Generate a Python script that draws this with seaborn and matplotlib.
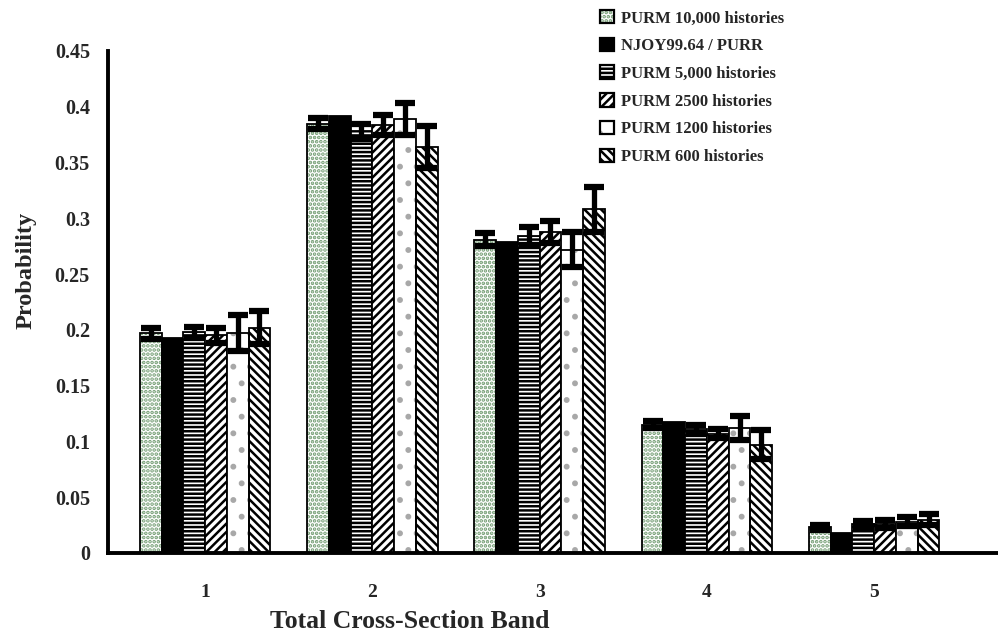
import numpy as np
import pandas as pd
import matplotlib
matplotlib.use("Agg")
import matplotlib.pyplot as plt
import seaborn as sns
from matplotlib.patches import Patch, Rectangle
from matplotlib.legend_handler import HandlerTuple
from matplotlib.ticker import FixedLocator, FuncFormatter

# ---------------- data ----------------
categories = ["1", "2", "3", "4", "5"]
series = ["PURM 10,000 histories", "NJOY99.64 / PURR", "PURM 5,000 histories",
          "PURM 2500 histories", "PURM 1200 histories", "PURM 600 histories"]

purm10k = [0.197, 0.385, 0.281, 0.115, 0.023]
err10k = [0.005, 0.005, 0.006, 0.003, 0.002]
njoy = [0.193, 0.392, 0.279, 0.117, 0.018]
purm5k = [0.198, 0.378, 0.284, 0.111, 0.026]
err5k = [0.005, 0.007, 0.008, 0.004, 0.003]
purm2500 = [0.195, 0.384, 0.288, 0.107, 0.026]
err2500 = [0.007, 0.009, 0.010, 0.004, 0.004]
purm1200 = [0.197, 0.389, 0.272, 0.112, 0.028]
err1200 = [0.016, 0.014, 0.016, 0.011, 0.004]
purm600 = [0.202, 0.364, 0.308, 0.097, 0.030]
err600 = [0.015, 0.019, 0.020, 0.013, 0.005]

yticks = [0, 0.05, 0.1, 0.15, 0.2, 0.25, 0.3, 0.35, 0.4, 0.45]

values = [purm10k, njoy, purm5k, purm2500, purm1200, purm600]
errors = [err10k, None, err5k, err2500, err1200, err600]

rows = []
for s, vals in zip(series, values):
    for c, v in zip(categories, vals):
        rows.append({"band": c, "series": s, "prob": v})
df = pd.DataFrame(rows)

# ---------------- style ----------------
sns.set_style("white")
plt.rcParams["font.family"] = ["Liberation Serif", "DejaVu Serif"]
plt.rcParams["font.weight"] = "bold"
plt.rcParams["hatch.linewidth"] = 1.8

fig = plt.figure(figsize=(9.98, 6.43), dpi=100)
ax = fig.add_axes([108 / 998, (643 - 553) / 643, 890 / 998, (553 - 51) / 643])

sns.barplot(data=df, x="band", y="prob", hue="series", order=categories,
            hue_order=series, errorbar=None, width=0.78, ax=ax,
            palette=["white"] * 6, edgecolor="black", linewidth=1.3,
            legend=False, saturation=1)

# styles per series: (facecolor, hatch, hatch colour)
styles = [
    ("white", "....", "#6f9a6f"),
    ("black", None, "black"),
    ("white", "----", "black"),
    ("white", "////", "black"),
    ("white", ".", "#a8a8a8"),
    ("white", "\\\\\\\\", "black"),
]

legend_handles = []
for cont, (fc, hatch, hc) in zip(ax.containers, styles):
    for p in cont.patches:
        p.set_facecolor(fc)
        if hatch:
            p.set_hatch(hatch)
            if hc != "black":
                p.set_edgecolor(hc)
                p.set_linewidth(0)
                ax.add_patch(Rectangle((p.get_x(), p.get_y()), p.get_width(),
                                       p.get_height(), facecolor="none",
                                       edgecolor="black", linewidth=1.3,
                                       zorder=p.get_zorder() + 0.1))
    if hatch and hc != "black":
        h = (Patch(facecolor=fc, edgecolor=hc, hatch=hatch, linewidth=0),
             Patch(facecolor="none", edgecolor="black", linewidth=1.6))
    else:
        h = Patch(facecolor=fc, edgecolor="black", hatch=hatch, linewidth=1.6)
    legend_handles.append(h)

# error bars at bar centers
for cont, vals, errs in zip(ax.containers, values, errors):
    if errs is None:
        continue
    xs = [p.get_x() + p.get_width() / 2 for p in cont.patches]
    ax.errorbar(xs, vals, yerr=errs, fmt="none", ecolor="black",
                elinewidth=3.8, capsize=7.5, capthick=4.5, zorder=5)

# axes
ax.set_ylim(0, 0.45)
ax.set_xlim(-0.58, 4.74)
ax.yaxis.set_major_locator(FixedLocator(yticks))
ax.yaxis.set_major_formatter(FuncFormatter(lambda v, pos: f"{v:g}"))
ax.set_xticks([0.5, 1.5, 2.5, 3.5])
ax.set_xticklabels([])
ax.set_xticks(range(len(categories)), minor=True)
ax.set_xticklabels(categories, minor=True)
ax.tick_params(axis="x", which="major", direction="out", length=7, width=2.5,
               color="black")
ax.tick_params(axis="x", which="minor", length=0, pad=22, labelsize=14)
ax.tick_params(axis="y", direction="out", length=7, width=2.5, color="black",
               labelsize=14.5, pad=6)
for lbl in ax.get_xticklabels(minor=True) + ax.get_yticklabels():
    lbl.set_fontweight("bold")

for s in ["top", "right"]:
    ax.spines[s].set_visible(False)
for s in ["left", "bottom"]:
    ax.spines[s].set_linewidth(2.8)
    ax.spines[s].set_color("black")

ax.set_xlabel("Total Cross-Section Band", fontsize=18.5, fontweight="bold")
ax.xaxis.set_label_coords((410 - 108) / 890, (553 - 610) / 502)
ax.set_ylabel("Probability", fontsize=17.5, fontweight="bold")
ax.yaxis.set_label_coords((37 - 108) / 890, (553 - 270) / 502)

fig.legend(handles=legend_handles, labels=series, loc="upper left",
           bbox_to_anchor=(600 / 998, 1 - 10 / 643), frameon=False,
           prop={"family": "Liberation Serif", "weight": "bold", "size": 12},
           handlelength=0.85, handleheight=0.85, handletextpad=0.4,
           labelspacing=0.68, borderpad=0, borderaxespad=0,
           handler_map={tuple: HandlerTuple(ndivide=1, pad=0)})

fig.savefig("out.png", dpi=100)
